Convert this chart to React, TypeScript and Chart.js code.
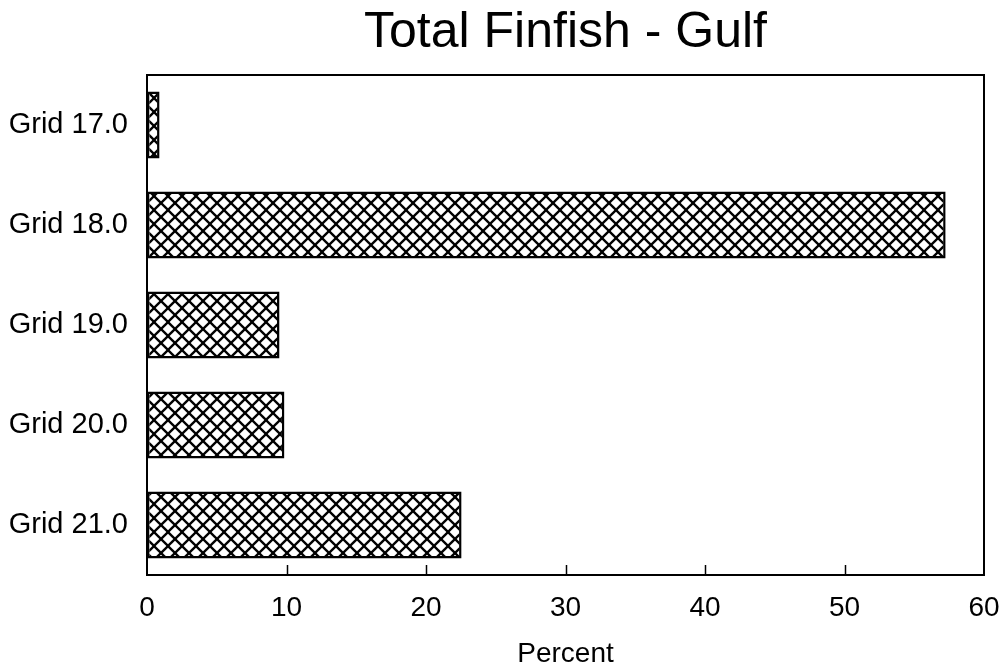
import React, { useEffect, useRef } from "react";
import { Chart, registerables } from "chart.js";

Chart.register(...registerables);

const categories = ["Grid 17.0", "Grid 18.0", "Grid 19.0", "Grid 20.0", "Grid 21.0"];
const percentValues = [0.9, 57.25, 9.5, 9.85, 22.55];
const xTickValues = [0, 10, 20, 30, 40, 50, 60];
const innerTickValues = [10, 20, 30, 40, 50];
const titleText = "Total Finfish - Gulf";
const xTitleText = "Percent";

const FONT = "'Liberation Sans', Arial, Helvetica, sans-serif";

function makeHatch(): CanvasPattern | string {
  const size = 14;
  const c = document.createElement("canvas");
  c.width = size;
  c.height = size;
  const g = c.getContext("2d");
  if (!g) return "#fff";
  g.fillStyle = "#fff";
  g.fillRect(0, 0, size, size);
  g.strokeStyle = "#000";
  g.lineWidth = 2.3;
  for (const o of [-size, 0, size]) {
    g.beginPath();
    g.moveTo(o - 1, -1);
    g.lineTo(o + size + 1, size + 1);
    g.stroke();
    g.beginPath();
    g.moveTo(o - 1, size + 1);
    g.lineTo(o + size + 1, -1);
    g.stroke();
  }
  const p = g.createPattern(c, "repeat");
  return p || "#fff";
}

const frameAndTicks = {
  id: "frameAndTicks",
  afterDatasetsDraw(chart: any) {
    const { ctx, chartArea } = chart;
    const xs = chart.scales.x;
    ctx.save();
    ctx.strokeStyle = "#000";
    ctx.lineWidth = 2;
    ctx.beginPath();
    ctx.moveTo(chartArea.left, chartArea.top);
    ctx.lineTo(chartArea.right, chartArea.top);
    ctx.lineTo(chartArea.right, chartArea.bottom);
    ctx.stroke();
    ctx.lineWidth = 1.5;
    for (const v of innerTickValues) {
      const px = Math.round(xs.getPixelForValue(v)) + 0.5;
      ctx.beginPath();
      ctx.moveTo(px, chartArea.bottom);
      ctx.lineTo(px, chartArea.bottom - 10);
      ctx.stroke();
    }
    ctx.restore();
  },
};

export default function App() {
  const ref = useRef<HTMLCanvasElement | null>(null);
  useEffect(() => {
    if (!ref.current) return;
    const hatch = makeHatch();
    const chart = new Chart(ref.current, {
      type: "bar",
      data: {
        labels: categories,
        datasets: [
          {
            data: percentValues,
            backgroundColor: hatch as any,
            borderColor: "#000",
            borderWidth: 2.5,
            borderSkipped: false,
            barPercentage: 0.67,
            categoryPercentage: 1,
          },
        ],
      },
      options: {
        indexAxis: "y",
        responsive: false,
        animation: false,
        devicePixelRatio: 1,
        layout: { padding: { left: 0, right: 22, top: 0, bottom: 0 } },
        plugins: {
          legend: { display: false },
          tooltip: { enabled: false },
          title: {
            display: true,
            text: titleText,
            fullSize: false,
            color: "#000",
            font: { family: FONT, size: 50, weight: "normal", lineHeight: 1.2 },
            padding: { top: 3, bottom: 12 },
          },
        },
        scales: {
          x: {
            type: "linear",
            min: 0,
            max: 60,
            afterBuildTicks(scale: any) {
              scale.ticks = xTickValues.map((v) => ({ value: v }));
            },
            afterFit(scale: any) {
              scale.height = 96;
              scale.paddingRight = 0;
              scale.paddingLeft = 0;
            },
            grid: { display: false, drawTicks: false },
            border: { display: true, color: "#000", width: 2 },
            ticks: {
              color: "#000",
              padding: 16,
              maxRotation: 0,
              font: { family: FONT, size: 28, weight: "normal" },
            },
            title: {
              display: true,
              text: xTitleText,
              color: "#000",
              font: { family: FONT, size: 28, weight: "normal", lineHeight: 1.2 },
              padding: { top: 0, bottom: 0 },
            },
          },
          y: {
            afterFit(scale: any) {
              scale.width = 147;
            },
            grid: { display: false, drawTicks: false },
            border: { display: true, color: "#000", width: 2 },
            ticks: {
              color: "#000",
              padding: 19,
              font: { family: FONT, size: 29, weight: "normal" },
            },
          },
        },
      },
      plugins: [frameAndTicks],
    });
    return () => chart.destroy();
  }, []);
  return (
    <div style={{ position: "absolute", left: 0, top: 0, width: 1006, height: 671, background: "#fff" }}>
      <canvas ref={ref} width={1006} height={671} />
    </div>
  );
}
